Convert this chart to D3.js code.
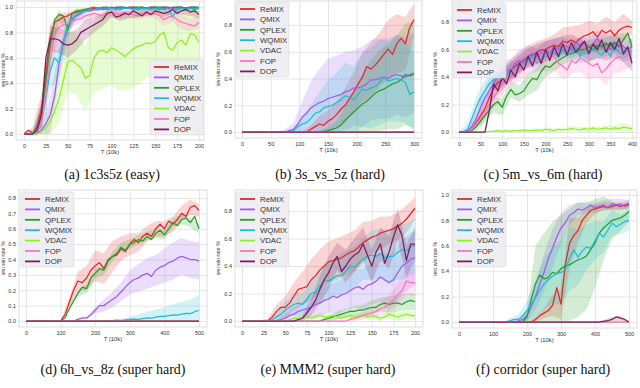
<!DOCTYPE html>
<html><head><meta charset="utf-8">
<script src="https://cdn.jsdelivr.net/npm/d3@7"></script>
<style>body{margin:0;background:#fff}svg{display:block}</style>
</head><body>
<svg id="chart" width="640" height="388"></svg>
<script>
const methods = ["ReMIX","QMIX","QPLEX","WQMIX","VDAC","FOP","DOP"];
const colors = ["#e8262a","#9d5cf5","#24a024","#1cbdd4","#8ef024","#ff72be","#7a1f5c"];

const flatZero = [0,0,0,0,0,0,0,0,0,0,0,0,0,0,0,0,0,0,0,0,0,0,0,0,0,0,0,0,0,0,0,0,0,0,0,0,0,0,0,0,0];

// ---------- (a) 1c3s5z ----------
const aT = d3.range(0, 201, 5);
const aXTicks = [0,25,50,75,100,125,150,175,200];
const aYTicks = [0,0.2,0.4,0.6,0.8,1.0];
const aReMIX = [0,0.03,0.01,0.06,0.2,0.48,0.76,0.88,0.9,0.92,0.93,0.95,0.96,0.97,0.98,0.98,0.99,0.99,0.98,0.99,1.0,0.99,1.0,0.99,1.0,1.0,0.99,1.0,0.99,1.0,1.0,0.99,1.0,1.0,0.99,1.0,1.0,0.99,1.0,1.0,0.99];
const aQMIX = [0,0,0,0.01,0.03,0.08,0.15,0.3,0.55,0.72,0.83,0.9,0.93,0.95,0.97,0.97,0.98,0.98,0.99,0.98,0.99,0.99,0.98,0.99,0.99,0.99,0.98,0.99,0.99,0.99,0.99,0.98,0.99,0.99,0.99,0.98,0.99,0.99,0.99,0.98,0.99];
const aQPLEX = [0,0,0.01,0.04,0.15,0.42,0.7,0.9,0.94,0.93,0.82,0.95,0.97,0.97,0.98,0.99,1.0,0.99,1.0,1.0,0.99,1.0,1.0,1.0,0.99,1.0,1.0,1.0,0.99,1.0,1.0,1.0,1.0,0.99,1.0,1.0,1.0,0.99,1.0,1.0,1.0];
const aWQMIX = [0,0,0.01,0.03,0.1,0.28,0.5,0.6,0.56,0.72,0.86,0.91,0.94,0.96,0.97,0.98,0.98,0.99,0.98,0.99,0.99,0.98,0.99,0.99,0.99,0.98,0.99,0.99,0.99,0.98,0.99,0.99,0.98,0.99,0.92,0.99,0.99,0.98,0.99,0.99,0.99];
const aVDAC = [0,0,0,0,0.02,0.05,0.1,0.18,0.28,0.42,0.57,0.58,0.55,0.52,0.44,0.46,0.6,0.65,0.66,0.64,0.68,0.66,0.64,0.61,0.64,0.67,0.69,0.7,0.72,0.71,0.73,0.78,0.8,0.68,0.66,0.72,0.74,0.7,0.79,0.78,0.72];
const aFOP = [0,0,0,0.02,0.1,0.3,0.58,0.78,0.84,0.86,0.87,0.89,0.9,0.91,0.93,0.94,0.95,0.94,0.93,0.95,0.96,0.95,0.94,0.96,0.95,0.94,0.93,0.95,0.96,0.94,0.95,0.93,0.9,0.92,0.93,0.9,0.88,0.87,0.86,0.85,0.88];
const aDOP = [0,0,0,0.03,0.15,0.6,0.75,0.75,0.74,0.71,0.7,0.71,0.74,0.8,0.82,0.84,0.86,0.88,0.9,0.95,0.96,0.92,0.93,0.95,0.94,0.97,0.95,0.93,0.96,0.94,0.97,0.96,0.95,0.96,0.98,0.95,0.97,0.98,0.96,0.97,0.94];
const aReMIX_sd = [0,0.05,0.12,0.1,0.05,0.03,0.02,0.01,0.01,0.01,0.01,0.01,0.01,0.01,0.01,0.01,0.01,0.01,0.01,0.01,0.01];
const aQMIX_sd = [0,0,0.05,0.15,0.12,0.06,0.03,0.02,0.01,0.01,0.01,0.01,0.01,0.01,0.01,0.01,0.01,0.01,0.01,0.01,0.01];
const aQPLEX_sd = [0,0.01,0.1,0.1,0.04,0.06,0.02,0.01,0.01,0.01,0.01,0.01,0.01,0.01,0.01,0.01,0.01,0.01,0.01,0.01,0.01];
const aWQMIX_sd = [0,0.02,0.1,0.15,0.1,0.05,0.03,0.02,0.01,0.01,0.01,0.01,0.01,0.01,0.01,0.01,0.01,0.03,0.01,0.01,0.01];
const aVDAC_sd = [0,0,0.03,0.12,0.2,0.24,0.24,0.26,0.28,0.3,0.3,0.3,0.3,0.3,0.28,0.28,0.25,0.25,0.22,0.22,0.25];
const aFOP_sd = [0,0,0.08,0.12,0.06,0.05,0.04,0.04,0.03,0.03,0.03,0.03,0.03,0.03,0.04,0.04,0.05,0.05,0.06,0.05,0.05];
const aDOP_sd = [0,0,0.1,0.1,0.1,0.1,0.08,0.08,0.06,0.05,0.04,0.04,0.03,0.03,0.03,0.03,0.03,0.03,0.03,0.03,0.03];

// ---------- (b) 3s_vs_5z ----------
const bT = d3.range(0, 301, 7.5);
const bXTicks = [0,50,100,150,200,250,300];
const bYTicks = [0,0.2,0.4,0.6,0.8];
const bReMIX = [0,0,0,0,0,0,0,0,0,0,0,0,0,0,0,0,0.02,0.04,0.06,0.05,0.08,0.1,0.13,0.17,0.2,0.25,0.3,0.36,0.41,0.49,0.47,0.5,0.54,0.58,0.62,0.58,0.66,0.7,0.66,0.78,0.84];
const bQMIX = [0,0,0,0,0,0,0,0,0,0,0,0.01,0.02,0.06,0.11,0.14,0.18,0.2,0.22,0.23,0.25,0.26,0.27,0.28,0.3,0.31,0.33,0.33,0.34,0.36,0.39,0.39,0.4,0.41,0.4,0.42,0.43,0.42,0.41,0.43,0.44];
const bQPLEX = [0,0,0,0,0,0,0,0,0,0,0,0,0,0,0,0,0,0,0,0.005,0.01,0.02,0.03,0.05,0.09,0.12,0.15,0.18,0.21,0.23,0.26,0.29,0.31,0.32,0.34,0.36,0.37,0.39,0.43,0.42,0.43];
const bWQMIX = [0,0,0,0,0,0,0,0,0,0,0,0,0.01,0.04,0.06,0.07,0.1,0.14,0.15,0.18,0.19,0.2,0.22,0.24,0.27,0.26,0.24,0.28,0.32,0.31,0.33,0.34,0.37,0.41,0.38,0.39,0.4,0.39,0.37,0.28,0.3];
const bReMIX_sd = [0,0,0,0,0,0,0,0,0.03,0.06,0.08,0.1,0.13,0.15,0.18,0.2,0.2,0.22,0.22,0.2,0.12];
const bQMIX_sd = [0,0,0,0,0,0.02,0.05,0.12,0.2,0.25,0.3,0.3,0.3,0.28,0.3,0.3,0.3,0.3,0.3,0.3,0.3];
const bQPLEX_sd = [0,0,0,0,0,0,0,0,0,0.01,0.02,0.05,0.1,0.15,0.22,0.28,0.3,0.32,0.35,0.38,0.4];
const bWQMIX_sd = [0,0,0,0,0,0,0.02,0.06,0.1,0.15,0.2,0.22,0.25,0.25,0.28,0.3,0.32,0.3,0.32,0.3,0.3];

// ---------- (c) 5m_vs_6m ----------
const cT = d3.range(0, 401, 10);
const cXTicks = [0,50,100,150,200,250,300,350,400];
const cYTicks = [0,0.2,0.4,0.6,0.8];
const cReMIX = [0,0,0,0.02,0.07,0.12,0.17,0.25,0.32,0.36,0.38,0.42,0.45,0.48,0.5,0.52,0.55,0.56,0.58,0.6,0.6,0.62,0.63,0.62,0.66,0.65,0.67,0.65,0.68,0.7,0.71,0.73,0.69,0.74,0.72,0.74,0.7,0.74,0.76,0.77,0.76];
const cQMIX = [0,0,0.01,0.04,0.1,0.18,0.25,0.3,0.35,0.4,0.42,0.45,0.45,0.5,0.52,0.5,0.55,0.57,0.55,0.58,0.6,0.57,0.62,0.6,0.63,0.62,0.6,0.65,0.63,0.66,0.62,0.64,0.68,0.63,0.65,0.6,0.64,0.66,0.62,0.6,0.62];
const cQPLEX = [0,0,0,0.01,0.04,0.08,0.12,0.16,0.2,0.22,0.18,0.26,0.31,0.27,0.28,0.3,0.35,0.39,0.38,0.44,0.48,0.47,0.5,0.52,0.54,0.56,0.57,0.58,0.6,0.6,0.62,0.6,0.63,0.62,0.64,0.63,0.65,0.62,0.67,0.72,0.62];
const cWQMIX = [0,0,0.02,0.1,0.18,0.25,0.3,0.35,0.38,0.4,0.38,0.42,0.45,0.46,0.48,0.5,0.52,0.55,0.5,0.52,0.56,0.55,0.58,0.54,0.6,0.56,0.58,0.62,0.55,0.6,0.57,0.61,0.58,0.56,0.6,0.55,0.62,0.58,0.56,0.6,0.58];
const cVDAC = [0,0,0,0,0,0,0,0.005,0.005,0.01,0.005,0.01,0.005,0.01,0.01,0.015,0.01,0.01,0.015,0.01,0.02,0.015,0.01,0.02,0.015,0.02,0.025,0.02,0.015,0.025,0.02,0.03,0.02,0.025,0.03,0.02,0.03,0.025,0.035,0.03,0.025];
const cFOP = [0,0,0,0.02,0.06,0.1,0.15,0.2,0.25,0.3,0.35,0.38,0.42,0.44,0.45,0.48,0.5,0.5,0.52,0.5,0.52,0.55,0.55,0.5,0.48,0.45,0.52,0.5,0.54,0.52,0.5,0.48,0.5,0.43,0.46,0.5,0.53,0.55,0.54,0.56,0.58];
const cDOP = [0,0,0,0,0,0,0,0.15,0.35,0.3,0.4,0.35,0.45,0.4,0.5,0.45,0.55,0.48,0.58,0.5,0.6,0.52,0.62,0.55,0.64,0.56,0.65,0.58,0.62,0.66,0.57,0.64,0.6,0.67,0.58,0.65,0.6,0.68,0.57,0.62,0.5];
const cReMIX_sd = [0,0.01,0.04,0.06,0.08,0.08,0.08,0.08,0.08,0.08,0.08,0.08,0.1,0.1,0.1,0.1,0.1,0.12,0.1,0.1,0.05];
const cQMIX_sd = [0,0.02,0.05,0.08,0.1,0.1,0.08,0.08,0.08,0.06,0.06,0.06,0.06,0.06,0.06,0.06,0.06,0.06,0.06,0.06,0.06];
const cQPLEX_sd = [0,0.01,0.03,0.05,0.06,0.06,0.06,0.06,0.08,0.08,0.08,0.06,0.05,0.05,0.05,0.05,0.05,0.05,0.05,0.05,0.05];
const cWQMIX_sd = [0,0.05,0.08,0.08,0.06,0.05,0.05,0.05,0.05,0.05,0.05,0.05,0.05,0.05,0.05,0.05,0.05,0.05,0.05,0.05,0.05];
const cVDAC_sd = [0,0,0,0,0.005,0.01,0.01,0.01,0.01,0.01,0.015,0.015,0.015,0.02,0.02,0.02,0.02,0.02,0.02,0.03,0.02];
const cFOP_sd = [0,0.01,0.03,0.06,0.08,0.08,0.08,0.08,0.08,0.08,0.08,0.1,0.1,0.1,0.1,0.12,0.1,0.12,0.1,0.1,0.1];
const cDOP_sd = [0,0,0,0,0.05,0.06,0.06,0.06,0.06,0.06,0.06,0.06,0.06,0.06,0.06,0.06,0.06,0.06,0.06,0.06,0.06];

// ---------- (d) 6h_vs_8z ----------
const dT = d3.range(0, 501, 12.5);
const dXTicks = [0,100,200,300,400,500];
const dYTicks = [0,0.1,0.2,0.3,0.4,0.5,0.6,0.7,0.8];
const dReMIX = [0,0,0,0,0,0,0,0,0,0.04,0.12,0.2,0.26,0.25,0.28,0.33,0.36,0.38,0.34,0.4,0.42,0.43,0.47,0.45,0.5,0.53,0.51,0.55,0.57,0.55,0.6,0.63,0.6,0.65,0.63,0.66,0.7,0.68,0.74,0.75,0.72];
const dQMIX = [0,0,0,0,0,0,0,0,0,0,0,0,0.01,0.02,0.02,0.04,0.07,0.1,0.1,0.12,0.14,0.16,0.19,0.22,0.25,0.27,0.28,0.3,0.31,0.29,0.33,0.35,0.36,0.38,0.39,0.41,0.42,0.41,0.4,0.4,0.39];
const dQPLEX = [0,0,0,0,0,0,0,0,0,0.02,0.08,0.13,0.18,0.22,0.21,0.28,0.31,0.34,0.33,0.39,0.42,0.44,0.48,0.46,0.5,0.51,0.53,0.52,0.55,0.53,0.57,0.59,0.56,0.6,0.64,0.62,0.66,0.67,0.64,0.68,0.6];
const dWQMIX = [0,0,0,0,0,0,0,0,0,0,0,0,0,0,0,0,0,0,0,0,0.003,0.005,0.003,0.008,0.01,0.012,0.01,0.015,0.02,0.018,0.025,0.03,0.03,0.035,0.04,0.038,0.045,0.05,0.048,0.06,0.07];
const dReMIX_sd = [0,0,0,0,0,0.03,0.06,0.08,0.1,0.1,0.1,0.08,0.07,0.06,0.05,0.05,0.05,0.05,0.05,0.05,0.04];
const dQMIX_sd = [0,0,0,0,0,0,0,0.01,0.02,0.04,0.05,0.06,0.08,0.09,0.1,0.1,0.11,0.12,0.12,0.12,0.12];
const dQPLEX_sd = [0,0,0,0,0,0.01,0.02,0.03,0.03,0.03,0.03,0.03,0.03,0.03,0.03,0.03,0.03,0.03,0.03,0.03,0.03];
const dWQMIX_sd = [0,0,0,0,0,0,0,0,0,0,0.005,0.01,0.02,0.03,0.04,0.05,0.06,0.07,0.08,0.09,0.1];

// ---------- (e) MMM2 ----------
const eT = d3.range(0, 201, 5);
const eXTicks = [0,25,50,75,100,125,150,175,200];
const eYTicks = [0,0.2,0.4,0.6,0.8];
const eReMIX = [0,0,0,0,0,0,0,0.03,0.07,0.1,0.1,0.13,0.18,0.23,0.24,0.25,0.3,0.33,0.37,0.4,0.43,0.44,0.45,0.46,0.48,0.5,0.51,0.54,0.57,0.59,0.61,0.62,0.64,0.65,0.66,0.67,0.69,0.71,0.74,0.78,0.82];
const eQMIX = [0,0,0,0,0,0,0,0,0.005,0.01,0.02,0.04,0.05,0.07,0.08,0.09,0.1,0.12,0.13,0.15,0.16,0.18,0.17,0.19,0.2,0.22,0.24,0.25,0.23,0.26,0.27,0.29,0.32,0.3,0.28,0.3,0.35,0.4,0.42,0.45,0.46];
const eQPLEX = [0,0,0,0,0,0,0,0,0,0,0,0,0,0,0,0,0,0,0,0.01,0.02,0.03,0.04,0.05,0.06,0.07,0.07,0.08,0.08,0.09,0.1,0.1,0.12,0.13,0.12,0.13,0.13,0.12,0.14,0.15,0.14];
const eWQMIX = [0,0,0,0,0,0,0,0.01,0.03,0.05,0.08,0.1,0.12,0.13,0.12,0.16,0.2,0.21,0.25,0.3,0.29,0.31,0.33,0.33,0.36,0.4,0.39,0.42,0.45,0.47,0.48,0.47,0.49,0.46,0.47,0.47,0.5,0.52,0.51,0.54,0.55];
const eVDAC = [0,0,0,0,0,0,0,0,0,0,0,0.01,0.02,0.02,0.03,0.03,0.02,0.03,0.04,0.03,0.03,0.04,0.03,0.02,0.03,0.04,0.03,0.03,0.04,0.03,0.04,0.03,0.02,0.03,0.05,0.04,0.03,0.04,0.05,0.04,0.04];
const eFOP = [0,0,0,0,0,0,0,0,0,0,0,0,0,0,0,0,0,0,0,0,0,0,0,0,0,0.01,0.02,0.03,0.04,0.05,0.06,0.07,0.09,0.1,0.13,0.15,0.19,0.22,0.29,0.28,0.28];
const eDOP = [0,0,0,0,0,0,0,0,0,0,0,0,0,0.01,0.02,0.06,0.1,0.15,0.23,0.3,0.35,0.42,0.47,0.36,0.4,0.45,0.48,0.5,0.56,0.48,0.4,0.5,0.56,0.42,0.5,0.61,0.7,0.62,0.44,0.56,0.56];
const eReMIX_sd = [0,0,0,0.02,0.05,0.08,0.1,0.12,0.15,0.15,0.15,0.15,0.15,0.15,0.15,0.12,0.12,0.1,0.1,0.1,0.08];
const eQMIX_sd = [0,0,0,0,0.01,0.03,0.05,0.06,0.08,0.1,0.1,0.12,0.12,0.14,0.15,0.15,0.18,0.2,0.2,0.2,0.2];
const eQPLEX_sd = [0,0,0,0,0,0,0,0,0,0.01,0.02,0.03,0.03,0.04,0.04,0.05,0.05,0.06,0.06,0.06,0.06];
const eWQMIX_sd = [0,0,0,0.01,0.03,0.06,0.08,0.08,0.1,0.12,0.13,0.14,0.15,0.15,0.15,0.18,0.18,0.2,0.2,0.2,0.2];
const eVDAC_sd = [0,0,0,0,0,0,0.01,0.02,0.02,0.02,0.02,0.02,0.02,0.02,0.02,0.02,0.02,0.03,0.03,0.03,0.03];
const eFOP_sd = [0,0,0,0,0,0,0,0,0,0,0,0,0.01,0.02,0.03,0.04,0.05,0.06,0.08,0.1,0.1];
const eDOP_sd = [0,0,0,0,0,0,0,0.02,0.06,0.1,0.12,0.1,0.12,0.12,0.12,0.12,0.12,0.12,0.12,0.12,0.12];

// ---------- (f) corridor ----------
const fT = d3.range(0, 501, 12.5);
const fXTicks = [0,100,200,300,400,500];
const fYTicks = [0,0.2,0.4,0.6,0.8,1.0];
const fReMIX = [0,0,0,0,0,0,0,0,0,0,0,0,0,0,0,0,0,0,0.02,0.05,0.07,0.09,0.13,0.27,0.14,0.45,0.62,0.68,0.72,0.8,0.84,0.88,0.89,0.9,0.91,0.9,0.91,0.92,0.91,0.92,0.93];
const fQMIX = [0,0,0,0,0,0,0,0,0,0,0,0,0,0,0.01,0.02,0.05,0.12,0.2,0.3,0.39,0.5,0.58,0.67,0.74,0.78,0.84,0.86,0.89,0.88,0.9,0.92,0.9,0.91,0.92,0.9,0.93,0.92,0.93,0.91,0.92];
const fQPLEX = [0,0,0,0,0,0,0,0,0,0,0,0,0,0,0,0,0.04,0.18,0.3,0.37,0.34,0.35,0.39,0.38,0.42,0.44,0.45,0.47,0.49,0.5,0.52,0.57,0.62,0.7,0.74,0.77,0.8,0.81,0.82,0.84,0.87];
const fWQMIX = [0,0,0,0,0,0,0,0,0,0,0,0,0.01,0.02,0.02,0.05,0.09,0.14,0.19,0.25,0.3,0.33,0.36,0.38,0.39,0.41,0.5,0.57,0.51,0.56,0.59,0.58,0.64,0.7,0.67,0.72,0.78,0.75,0.77,0.79,0.8];
const fDOP = [0,0,0,0,0,0,0,0,0,0,0,0,0,0,0,0,0,0,0,0,0,0,0,0,0,0,0,0,0,0,0,0,0,0,0.005,0.01,0.02,0.04,0.03,0.02,0];
const fReMIX_sd = [0,0,0,0,0,0,0,0,0,0.02,0.04,0.08,0.12,0.2,0.1,0.06,0.04,0.03,0.03,0.03,0.03];
const fQMIX_sd = [0,0,0,0,0,0,0.01,0.02,0.05,0.1,0.15,0.15,0.12,0.08,0.05,0.04,0.04,0.04,0.04,0.04,0.04];
const fQPLEX_sd = [0,0,0,0,0,0,0,0,0.05,0.3,0.36,0.4,0.42,0.44,0.45,0.42,0.35,0.25,0.15,0.1,0.08];
const fWQMIX_sd = [0,0,0,0,0,0,0.02,0.04,0.08,0.15,0.2,0.22,0.25,0.25,0.22,0.18,0.15,0.12,0.1,0.08,0.08];
const fDOP_sd = [0,0,0,0,0,0,0,0,0,0,0,0,0,0,0,0,0,0.01,0.02,0.02,0];

// ---------- layout (positions only) ----------
const panels = [
  {title:"(a) 1c3s5z (easy)", T:aT, xTicks:aXTicks, yTicks:aYTicks,
   series:[aReMIX,aQMIX,aQPLEX,aWQMIX,aVDAC,aFOP,aDOP],
   sd:[aReMIX_sd,aQMIX_sd,aQPLEX_sd,aWQMIX_sd,aVDAC_sd,aFOP_sd,aDOP_sd],
   frame:[16,1,204,140], xd:[0,200], xr:[24,199], yd:[0,1], yr:[134,7], leg:[150,60], tx:112, ty:179, yl:5},
  {title:"(b) 3s_vs_5z (hard)", T:bT, xTicks:bXTicks, yTicks:bYTicks,
   series:[bReMIX,bQMIX,bQPLEX,bWQMIX,flatZero,flatZero,flatZero],
   sd:[bReMIX_sd,bQMIX_sd,bQPLEX_sd,bWQMIX_sd,null,null,null],
   frame:[235,1,422,138], xd:[0,300], xr:[242,414], yd:[0,0.8], yr:[132,25], leg:[236,2], tx:330, ty:179, yl:220},
  {title:"(c) 5m_vs_6m (hard)", T:cT, xTicks:cXTicks, yTicks:cYTicks,
   series:[cReMIX,cQMIX,cQPLEX,cWQMIX,cVDAC,cFOP,cDOP],
   sd:[cReMIX_sd,cQMIX_sd,cQPLEX_sd,cWQMIX_sd,cVDAC_sd,cFOP_sd,cDOP_sd],
   frame:[452,1,637,138], xd:[0,400], xr:[459,632], yd:[0,0.8], yr:[132,22], leg:[453,3], tx:543, ty:179, yl:437},
  {title:"(d) 6h_vs_8z (super hard)", T:dT, xTicks:dXTicks, yTicks:dYTicks,
   series:[dReMIX,dQMIX,dQPLEX,dWQMIX,flatZero,flatZero,flatZero],
   sd:[dReMIX_sd,dQMIX_sd,dQPLEX_sd,dWQMIX_sd,null,null,null],
   frame:[19,190,207,327], xd:[0,500], xr:[26,199], yd:[0,0.8], yr:[321,198], leg:[21,192], tx:113, ty:374, yl:5},
  {title:"(e) MMM2 (super hard)", T:eT, xTicks:eXTicks, yTicks:eYTicks,
   series:[eReMIX,eQMIX,eQPLEX,eWQMIX,eVDAC,eFOP,eDOP],
   sd:[eReMIX_sd,eQMIX_sd,eQPLEX_sd,eWQMIX_sd,eVDAC_sd,eFOP_sd,eDOP_sd],
   frame:[235,190,423,327], xd:[0,200], xr:[242,415], yd:[0,0.8], yr:[321,211], leg:[236,192], tx:328, ty:374, yl:220},
  {title:"(f) corridor (super hard)", T:fT, xTicks:fXTicks, yTicks:fYTicks,
   series:[fReMIX,fQMIX,fQPLEX,fWQMIX,flatZero,flatZero,fDOP],
   sd:[fReMIX_sd,fQMIX_sd,fQPLEX_sd,fWQMIX_sd,null,null,fDOP_sd],
   frame:[452,190,637,328], xd:[0,500], xr:[459,629], yd:[0,1], yr:[322,195], leg:[453,192], tx:543, ty:374, yl:437}
];

const svg = d3.select("#chart");
const defs = svg.append("defs");
const tickFont = "'Liberation Sans', Arial, sans-serif";

panels.forEach((p, pi) => {
  const [L, Tp, R, B] = p.frame;
  const x = d3.scaleLinear().domain(p.xd).range(p.xr);
  const y = d3.scaleLinear().domain(p.yd).range(p.yr);
  const g = svg.append("g");

  g.append("rect").attr("x", L).attr("y", Tp).attr("width", R - L).attr("height", B - Tp)
    .attr("fill", "#ffffff");

  const gx = g.append("g").attr("transform", `translate(0,${B})`)
    .call(d3.axisBottom(x).tickValues(p.xTicks).tickSize(-(B - Tp)).tickFormat(""));
  gx.select(".domain").remove();
  gx.selectAll("line").attr("stroke", "#e0e0e0").attr("stroke-width", 0.8);
  const gy = g.append("g").attr("transform", `translate(${L},0)`)
    .call(d3.axisLeft(y).tickValues(p.yTicks).tickSize(-(R - L)).tickFormat(""));
  gy.select(".domain").remove();
  gy.selectAll("line").attr("stroke", "#e0e0e0").attr("stroke-width", 0.8);

  const clipId = "clip" + pi;
  defs.append("clipPath").attr("id", clipId).append("rect")
    .attr("x", L).attr("y", Tp).attr("width", R - L).attr("height", B - Tp);
  const plot = g.append("g").attr("clip-path", `url(#${clipId})`);

  p.series.forEach((vals, si) => {
    const sd = p.sd[si];
    if (!sd) return;
    const pts = sd.map((s, k) => ({t: p.T[2 * k], v: vals[2 * k], s: s}));
    const area = d3.area()
      .x(d => x(d.t))
      .y0(d => y(Math.max(0, d.v - d.s)))
      .y1(d => y(Math.min(1, d.v + d.s)));
    plot.append("path").datum(pts).attr("d", area)
      .attr("fill", colors[si]).attr("fill-opacity", 0.2).attr("stroke", "none");
  });
  p.series.forEach((vals, si) => {
    const line = d3.line().x((d, i) => x(p.T[i])).y(d => y(d));
    plot.append("path").datum(vals).attr("d", line)
      .attr("fill", "none").attr("stroke", colors[si]).attr("stroke-width", 1.25)
      .attr("stroke-linejoin", "round");
  });

  g.append("rect").attr("x", L).attr("y", Tp).attr("width", R - L).attr("height", B - Tp)
    .attr("fill", "none").attr("stroke", "#d4d4d4").attr("stroke-width", 0.8);

  const ax = g.append("g").attr("transform", `translate(0,${B})`)
    .call(d3.axisBottom(x).tickValues(p.xTicks).tickSize(0).tickPadding(4).tickFormat(d3.format("d")));
  ax.select(".domain").remove();
  ax.selectAll("text").attr("font-family", tickFont).attr("font-size", 5.5).attr("fill", "#333");
  const ay = g.append("g").attr("transform", `translate(${L},0)`)
    .call(d3.axisLeft(y).tickValues(p.yTicks).tickSize(0).tickPadding(3).tickFormat(d3.format(".1f")));
  ay.select(".domain").remove();
  ay.selectAll("text").attr("font-family", tickFont).attr("font-size", 5.5).attr("fill", "#333");

  g.append("text").attr("x", (L + R) / 2).attr("y", B + 14).attr("text-anchor", "middle")
    .attr("font-family", tickFont).attr("font-size", 5.8).attr("fill", "#333").text("T (10k)");
  g.append("text").attr("transform", `translate(${p.yl},${(Tp + B) / 2}) rotate(-90)`)
    .attr("text-anchor", "middle").attr("font-family", tickFont).attr("font-size", 5.2)
    .attr("fill", "#333").text("test win rate %");

  const lg = g.append("g").attr("transform", `translate(${p.leg[0]},${p.leg[1]})`);
  lg.append("rect").attr("width", 53).attr("height", 75).attr("rx", 2)
    .attr("fill", "#ececf1").attr("fill-opacity", 0.85).attr("stroke", "#d8d8d8").attr("stroke-width", 0.6);
  methods.forEach((m, mi) => {
    const yy = 7 + mi * 10.4;
    lg.append("line").attr("x1", 4).attr("x2", 19).attr("y1", yy).attr("y2", yy)
      .attr("stroke", colors[mi]).attr("stroke-width", 1.8);
    lg.append("text").attr("x", 24).attr("y", yy + 2.8).attr("font-family", tickFont)
      .attr("font-size", 7.8).attr("fill", "#333").text(m);
  });

  svg.append("text").attr("x", p.tx).attr("y", p.ty).attr("text-anchor", "middle")
    .attr("font-family", "'Liberation Serif', 'Times New Roman', serif").attr("font-size", 14)
    .attr("fill", "#111").text(p.title);
});
</script>
</body></html>
